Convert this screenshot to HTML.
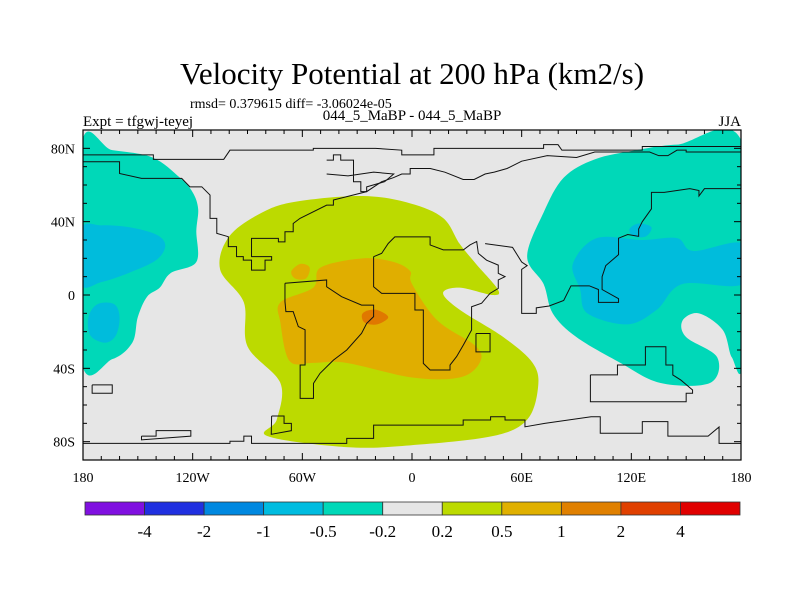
<!DOCTYPE html>
<html><head><meta charset="utf-8"><style>
body{margin:0;background:#fff;}
svg{display:block;font-family:"Liberation Serif",serif;}
</style></head><body>
<svg id="chart" width="800" height="600" viewBox="0 0 800 600">
<text x="412" y="84" text-anchor="middle" font-size="31">Velocity Potential at 200 hPa (km2/s)</text>
<text x="190" y="108" font-size="14">rmsd= 0.379615 diff= -3.06024e-05</text>
<text x="412" y="120" text-anchor="middle" font-size="15">044_5_MaBP - 044_5_MaBP</text>
<text x="83" y="126" font-size="15">Expt = tfgwj-teyej</text>
<text x="741" y="126" text-anchor="end" font-size="15">JJA</text>
<g id="map"></g>
<g id="axes"></g>
<g id="cbar"></g>
</svg>
<script>
const contourLevels = ["-0.5to-0.2","-1to-0.5","0.2to0.5","0.5to1","1to2"];
const cyanLeft = [[-181,81],[-164,79],[-142,75],[-127,64],[-120,56],[-117,47],[-118,35],[-118,18],[-132,12],[-138,4],[-145,-1],[-150,-12],[-153,-26],[-164,-35],[-181,-35]];
const blueLeft1 = [[-181,36],[-170,38],[-155,37],[-140,33],[-135,27],[-140,19],[-155,12],[-170,7],[-181,6]];
const blueLeft2 = [[-172,-5],[-163,-5],[-160,-12],[-162,-22],[-168,-26],[-176,-22],[-177,-12]];
const cyanRight = [[181,82],[145,82],[123,79],[100,74],[83,64],[72,45],[63,21],[72,6],[77,-10],[90,-23],[114,-37],[136,-48],[163,-48],[167,-34],[150,-23],[148,-14],[157,-10],[170,-19],[175,-34],[181,-34]];
const blueRight = [[88,17],[101,31],[126,30],[145,31],[154,24],[181,28],[181,6],[148,6],[134,-8],[118,-16],[96,-10],[92,3]];
const blueRight2 = [[119,36],[124,39],[131,37],[128,32],[121,32]];
const greenCenter = [[-100,32],[-105,14],[-92,-4],[-90,-28],[-72,-48],[-74,-68],[-79,-77],[-36,-83],[-1,-82],[44,-77],[63,-68],[69,-50],[66,-37],[50,-23],[26,-8],[17,1],[26,4],[44,0],[47,3],[35,17],[26,28],[17,42],[-1,50],[-27,54],[-63,51],[-82,45]];
const orangeCenter = [[-67,-36],[-72,-15],[-72,-4],[-54,4],[-50,15],[-27,20],[-10,18],[-1,13],[0,6],[14,-14],[35,-28],[37,-37],[26,-45],[0,-45],[-36,-37],[-54,-37]];
const orangeSmall = [[-66,13],[-61,17],[-56,15],[-58,9],[-64,9]];
const darkOrange = [[-27,-10],[-20,-8],[-13,-12],[-19,-16],[-26,-15]];

const coastLines = [
 [[-180,72.7],[-160,72.7],[-160,66.3],[-148,63.6],[-126,63.6],[-121.5,59],[-115,59],[-110.5,54.5],[-110.5,41.8],[-106.8,41.8],[-106.8,33.6],[-100.5,31.8],[-100.5,26.4],[-96,26.4],[-96,20.9],[-92.3,20.9],[-92.3,19],[-87.8,19],[-87.8,13.6],[-80.4,13.6],[-80.4,19],[-76.8,19],[-76.8,20.9],[-87.8,20.9],[-87.8,30.9],[-73.1,30.9],[-73.1,29],[-69.5,29],[-69.5,34.5],[-65,34.5],[-65,39],[-61.3,41.8],[-46.7,49],[-43,49],[-43,51.8],[-24.8,56.4],[-16.6,61.8],[-10.2,64],[-5.6,66],[-1,66],[-1,69],[10,69],[18,67],[28,63],[34,63],[40,66],[45,67],[52,69],[60,73],[74,76],[90,75],[100,78],[130,78],[135,76],[140,76],[145,79],[150,79],[150,78],[180,78]],
 [[-180,76.4],[-141.5,76.4],[-141.5,74],[-103,74],[-99.6,79],[-54,79],[-54,80],[-20,80],[-5.6,79],[-5.6,76.4],[12,76.4],[12,80],[72,80],[72,82],[79.9,82],[82,79],[124,79],[126,79],[126,81],[180,81]],
 [[-46.7,73.6],[-43,73.6],[-43,76.4],[-39,76.4],[-39,73.6],[-32,73.6],[-32,61.8],[-28,61.8],[-28,56.4],[-24.8,56.4],[-24.8,59],[-15,61.8],[-10,66],[-21,67],[-35,65],[-46.7,66]],
 [[-69.5,6.4],[-46.7,8.2],[-46.7,4.5],[-38.5,-0.9],[-27.6,-5.5],[-21,-5.5],[-21,-11.8],[-24.8,-15.5],[-27.6,-20.9],[-35.7,-30],[-43,-35.5],[-50.3,-42.7],[-53.9,-48.2],[-53.9,-56.4],[-61.2,-56.4],[-61.2,-38.2],[-58.5,-38.2],[-58.5,-19],[-62.2,-17.2],[-65,-9.1],[-69,-9.1],[-69.5,-3.6],[-69.5,6.4]],
 [[-21,20.9],[-16.6,22.7],[-13,28.1],[-9.4,31.7],[9.9,31.7],[9.9,27.3],[17.1,24.6],[28.1,24.6],[31.7,27.3],[35.4,29.2],[36.3,22.7],[40.8,19],[47.2,16.3],[47.2,11.8],[50.9,10],[47.2,8.2],[47.2,3.6],[42.7,0.9],[38.1,-4.5],[32.6,-6.4],[32.6,-19.1],[28.1,-27.3],[24.4,-33.6],[20.8,-38.2],[20.8,-40.9],[9.9,-40.9],[6.2,-37.3],[6.2,-8.2],[1.6,-8.2],[1.6,0.9],[-16.6,0.9],[-21,4.5],[-21,20.9]],
 [[35,-21],[42.7,-21],[42.7,-31],[35,-31],[35,-21]],
 [[40,28],[55,26],[60,18],[63,16],[60,14],[60,-10],[68,-10],[68,-7],[75,-6],[83,-3],[87,5],[97,5],[102,3],[102,-4],[113,-4],[113,-2],[104,3],[104,10],[106,16],[113,22],[113,31],[118,33],[124,32],[124,36],[126,40],[131,47],[131,56],[138,56],[152,58],[157,57],[157,54],[160,58],[180,58]],
 [[97.6,-43.6],[112.4,-43.6],[112.4,-38.2],[127.7,-38.2],[127.7,-28.2],[138.9,-28.2],[138.9,-38.2],[142.7,-38.2],[142.7,-43.6],[147.1,-46.4],[153.5,-51.8],[153.5,-53.6],[150,-53.6],[150,-58.2],[97.6,-58.2],[97.6,-43.6]],
 [[-175,-49],[-164,-49],[-164,-53.6],[-175,-53.6],[-175,-49]],
 [[-148,-77],[-140,-77],[-140,-74],[-121,-74],[-121,-77],[-148,-79],[-148,-77]],
 [[-180,-80.9],[-99.6,-80.9],[-99.6,-79.8],[-92,-79.8],[-92,-77],[-87.8,-77],[-87.8,-80.9],[-35.7,-80.9],[-35.7,-78.2],[-21,-78.2],[-21,-71],[28,-71],[28,-68.2],[43,-68.2],[43,-66.4],[50.9,-66.4],[50.9,-68.2],[61.8,-68.2],[61.8,-71.9],[72.6,-70],[98,-66.4],[103,-66.4],[103,-75.4],[126,-75.4],[126,-69.1],[140,-69.1],[140,-77],[162,-77],[168,-72],[168,-80.9],[180,-80.9]],
 [[-76.8,-66],[-70,-66],[-70,-70],[-66,-70],[-66,-74],[-77,-76],[-76.8,-66]]
];
const cbarLabels = ["-4","-2","-1","-0.5","-0.2","0.2","0.5","1","2","4"];
const cbarColors = ["#8010e0","#2030e0","#0088e0","#00bce0","#00d8b8","#e6e6e6","#bcda00","#e0b000","#e08000","#e04000","#e00000"];

const NS="http://www.w3.org/2000/svg";
const X0=83,X1=741,Y0=130,Y1=460;
function xs(lon){return X0+(lon+180)/360*(X1-X0);}
function ys(lat){return Y0+(90-lat)/180*(Y1-Y0);}
function mk(t,a,p){const e=document.createElementNS(NS,t);for(const k in a)e.setAttribute(k,a[k]);(p||document.getElementById('map')).appendChild(e);return e;}
function smooth(pts){
 const P=pts.map(p=>[xs(p[0]),ys(p[1])]);const n=P.length;let d=`M${P[0][0]},${P[0][1]}`;
 for(let i=0;i<n;i++){const p0=P[(i-1+n)%n],p1=P[i],p2=P[(i+1)%n],p3=P[(i+2)%n];
  d+=`C${p1[0]+(p2[0]-p0[0])/6},${p1[1]+(p2[1]-p0[1])/6} ${p2[0]-(p3[0]-p1[0])/6},${p2[1]-(p3[1]-p1[1])/6} ${p2[0]},${p2[1]}`;}
 return d+'Z';}
const map=document.getElementById('map');
const clip=mk('clipPath',{id:'pc'});mk('rect',{x:X0,y:Y0,width:X1-X0,height:Y1-Y0},clip);
const bg=mk('rect',{x:X0,y:Y0,width:X1-X0,height:Y1-Y0,fill:'#e6e6e6'});


const g=mk('g',{'clip-path':'url(#pc)'});
const fills=[[cyanLeft,'#00d8b8','contour-cyan-west'],[blueLeft1,'#00bcdc','contour-blue-west'],[blueLeft2,'#00bcdc','contour-blue-southwest'],[cyanRight,'#00d8b8','contour-cyan-east'],[blueRight,'#00bcdc','contour-blue-east'],[blueRight2,'#00bcdc','contour-blue-east-small'],[greenCenter,'#bcda00','contour-green-center'],[orangeCenter,'#e0ae00','contour-orange-center'],[orangeSmall,'#e0ae00','contour-orange-small'],[darkOrange,'#e07800','contour-darkorange']];
fills.forEach(f=>{const e=mk('path',{d:smooth(f[0]),fill:f[1]},g);
 
 });
coastLines.forEach((c,i)=>{const e=mk('polyline',{points:c.map(p=>xs(p[0])+','+ys(p[1])).join(' '),fill:'none',stroke:'#111','stroke-width':1},g);
 
 });
const ax=document.getElementById('axes');
const fr=mk('rect',{x:X0,y:Y0,width:X1-X0,height:Y1-Y0,fill:'none',stroke:'#000','stroke-width':1.2},ax);


for(let lon=-180;lon<=180;lon+=10){const L=lon%60===0?7:4;
 mk('line',{x1:xs(lon),x2:xs(lon),y1:Y0,y2:Y0+L,stroke:'#000'},ax);mk('line',{x1:xs(lon),x2:xs(lon),y1:Y1,y2:Y1-L,stroke:'#000'},ax);}
for(let lat=-90;lat<=90;lat+=10){const L=lat%40===0?7:4;
 mk('line',{x1:X0,x2:X0+L,y1:ys(lat),y2:ys(lat),stroke:'#000'},ax);mk('line',{x1:X1,x2:X1-L,y1:ys(lat),y2:ys(lat),stroke:'#000'},ax);}
const lonTicks=[-180,-120,-60,0,60,120,180],lonLabels=["180","120W","60W","0","60E","120E","180"];
lonTicks.forEach((v,i)=>{const t=mk('text',{x:xs(v),y:482,'text-anchor':'middle','font-size':14},ax);t.textContent=lonLabels[i];
 
 });
const latTicks=[80,40,0,-40,-80],latLabels=["80N","40N","0","40S","80S"];
latTicks.forEach((v,i)=>{const t=mk('text',{x:75,y:ys(v)+5,'text-anchor':'end','font-size':14},ax);t.textContent=latLabels[i];
 
 });
const cb=document.getElementById('cbar');const CX0=85,CX1=740,CY=502,CH=13,w=(CX1-CX0)/cbarColors.length;
cbarColors.forEach((c,i)=>{const r=mk('rect',{x:CX0+i*w,y:CY,width:w,height:CH,fill:c,stroke:'#333','stroke-width':0.8},cb);
 
 });
cbarLabels.forEach((l,i)=>{const t=mk('text',{x:CX0+(i+1)*w,y:537,'text-anchor':'middle','font-size':17},cb);t.textContent=l;
 
 });
</script>
</body></html>
